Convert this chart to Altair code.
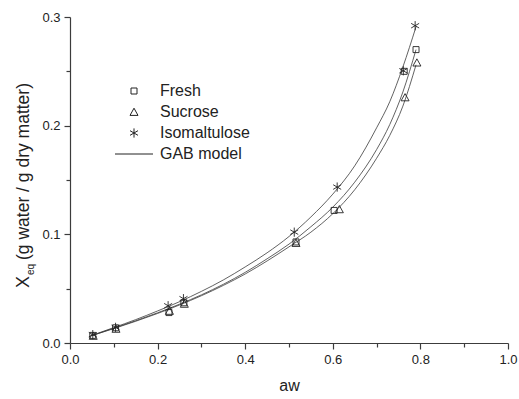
import altair as alt
import pandas as pd

# Measured equilibrium moisture (g water / g dry matter) against water activity
aw_fresh = [0.052, 0.104, 0.226, 0.260, 0.516, 0.603, 0.763, 0.790]
xeq_fresh = [0.0070, 0.0140, 0.0280, 0.0370, 0.0930, 0.1220, 0.2500, 0.2700]
aw_sucrose = [0.053, 0.105, 0.227, 0.261, 0.516, 0.615, 0.765, 0.792]
xeq_sucrose = [0.0065, 0.0130, 0.0295, 0.0360, 0.0920, 0.1230, 0.2260, 0.2580]
aw_iso = [0.052, 0.104, 0.224, 0.259, 0.512, 0.610, 0.761, 0.788]
xeq_iso = [0.0077, 0.0144, 0.0343, 0.0408, 0.1020, 0.1435, 0.2505, 0.2920]

# Fitted GAB isotherms, tabulated along aw
aw_model = [0.05, 0.10, 0.15, 0.20, 0.25, 0.30, 0.35, 0.40, 0.45, 0.50,
            0.55, 0.60, 0.65, 0.70, 0.73, 0.76, 0.79]
gab_fresh = [0.0069, 0.0136, 0.0205, 0.0278, 0.0357, 0.0443, 0.0540, 0.0650,
             0.0775, 0.0910, 0.1070, 0.1250, 0.1480, 0.1780, 0.2010, 0.2310, 0.2700]
gab_sucrose = [0.0068, 0.0133, 0.0200, 0.0272, 0.0350, 0.0435, 0.0530, 0.0635,
               0.0755, 0.0885, 0.1020, 0.1190, 0.1410, 0.1700, 0.1910, 0.2180, 0.2560]
gab_iso = [0.0070, 0.0142, 0.0215, 0.0295, 0.0380, 0.0475, 0.0580, 0.0700,
           0.0830, 0.0980, 0.1160, 0.1370, 0.1630, 0.1980, 0.2220, 0.2540, 0.2910]

series_names = ["Fresh", "Sucrose", "Isomaltulose", "GAB model"]
marker_paths = [
    "M-0.75,-0.75L0.75,-0.75L0.75,0.75L-0.75,0.75Z",
    "M-1,0.85L0,-0.95L1,0.85Z",
    "M0,-1.15L0,1.15M-1,-0.58L1,0.58M-1,0.58L1,-0.58",
    "M-4.75,0L4.75,0",
]

points = pd.concat([
    pd.DataFrame({"aw": aw_fresh, "xeq": xeq_fresh, "series": "Fresh"}),
    pd.DataFrame({"aw": aw_sucrose, "xeq": xeq_sucrose, "series": "Sucrose"}),
    pd.DataFrame({"aw": aw_iso, "xeq": xeq_iso, "series": "Isomaltulose"}),
], ignore_index=True)

curves = pd.concat([
    pd.DataFrame({"aw": aw_model, "xeq": gab_fresh, "curve": "Fresh"}),
    pd.DataFrame({"aw": aw_model, "xeq": gab_sucrose, "curve": "Sucrose"}),
    pd.DataFrame({"aw": aw_model, "xeq": gab_iso, "curve": "Isomaltulose"}),
], ignore_index=True)

FONT = "Liberation Sans"
INK = "#222222"
AXIS_INK = "#3c3c3c"

x_scale = alt.Scale(domain=[0, 1.0], nice=False, zero=False)
y_scale = alt.Scale(domain=[0, 0.3], nice=False, zero=False)

major_x = alt.Axis(values=[0, 0.2, 0.4, 0.6, 0.8, 1.0], format=".1f", title="aw",
                   orient="bottom", grid=False, tickSize=6, tickColor=AXIS_INK,
                   domainColor=AXIS_INK, domainWidth=1.2, tickWidth=1.2,
                   labelFlush=False, labelOverlap=False,
                   labelFont=FONT, labelFontSize=13, labelColor=INK, labelPadding=4,
                   titleFont=FONT, titleFontSize=16, titleFontWeight="normal",
                   titleColor=INK, titlePadding=11)
major_y = alt.Axis(values=[0, 0.1, 0.2, 0.3], format=".1f", title=None,
                   orient="left", grid=False, tickSize=6, tickColor=AXIS_INK,
                   domainColor=AXIS_INK, domainWidth=1.2, tickWidth=1.2,
                   labelFlush=False, labelOverlap=False,
                   labelFont=FONT, labelFontSize=13, labelColor=INK, labelPadding=4)
minor_x = alt.Axis(values=[0.1, 0.3, 0.5, 0.7, 0.9], labels=False, title=None,
                   orient="bottom", grid=False, domain=False, tickSize=4,
                   tickColor=AXIS_INK, tickWidth=1.2)
minor_y = alt.Axis(values=[0.05, 0.15, 0.25], labels=False, title=None,
                   orient="left", grid=False, domain=False, tickSize=4,
                   tickColor=AXIS_INK, tickWidth=1.2)

lines = alt.Chart(curves).mark_line(
    color="#3a3a3a", strokeWidth=0.8, interpolate="monotone"
).encode(
    x=alt.X("aw:Q", scale=x_scale, axis=major_x),
    y=alt.Y("xeq:Q", scale=y_scale, axis=major_y),
    detail="curve:N",
)

minor = alt.Chart(curves).mark_point(opacity=0).encode(
    x=alt.X("aw:Q", scale=x_scale, axis=minor_x),
    y=alt.Y("xeq:Q", scale=y_scale, axis=minor_y),
)

markers = alt.Chart(points).mark_point(
    filled=False, size=64, strokeWidth=0.9, color=INK, opacity=1
).encode(
    x=alt.X("aw:Q", scale=x_scale, axis=None),
    y=alt.Y("xeq:Q", scale=y_scale, axis=None),
    shape=alt.Shape(
        "series:N",
        scale=alt.Scale(domain=series_names, range=marker_paths),
        legend=alt.Legend(
            title=None, orient="none", legendX=56, legendY=66,
            labelFont=FONT, labelFontSize=16, labelColor=INK, labelOffset=18,
            symbolSize=64, symbolStrokeColor=INK, symbolFillColor="transparent",
            symbolStrokeWidth=1, rowPadding=5, padding=0,
        ),
    ),
)

# Y-axis title with a subscripted "eq"
title_bits = pd.DataFrame({"t": ["X"]})
y_title_x = alt.Chart(title_bits).mark_text(
    angle=270, align="left", baseline="alphabetic", font=FONT, fontSize=18, color=INK
).encode(x=alt.value(-41), y=alt.value(271), text=alt.value("X"))
y_title_sub = alt.Chart(title_bits).mark_text(
    angle=270, align="left", baseline="alphabetic", font=FONT, fontSize=10, color=INK
).encode(x=alt.value(-36), y=alt.value(258), text=alt.value("eq"))
y_title_rest = alt.Chart(title_bits).mark_text(
    angle=270, align="left", baseline="alphabetic", font=FONT, fontSize=17.5, color=INK
).encode(x=alt.value(-41), y=alt.value(243), text=alt.value("(g water / g dry matter)"))

chart = alt.layer(
    lines, minor, markers, y_title_x, y_title_sub, y_title_rest
).resolve_axis(
    x="independent", y="independent"
).properties(
    width=438, height=326,
    padding={"left": 70, "top": 17, "right": 11, "bottom": 56},
    autosize=alt.AutoSizeParams(type="none"),
    background="white",
).configure_view(stroke=None)

chart.save("out.html", embed_options={"renderer": "svg", "actions": False})
